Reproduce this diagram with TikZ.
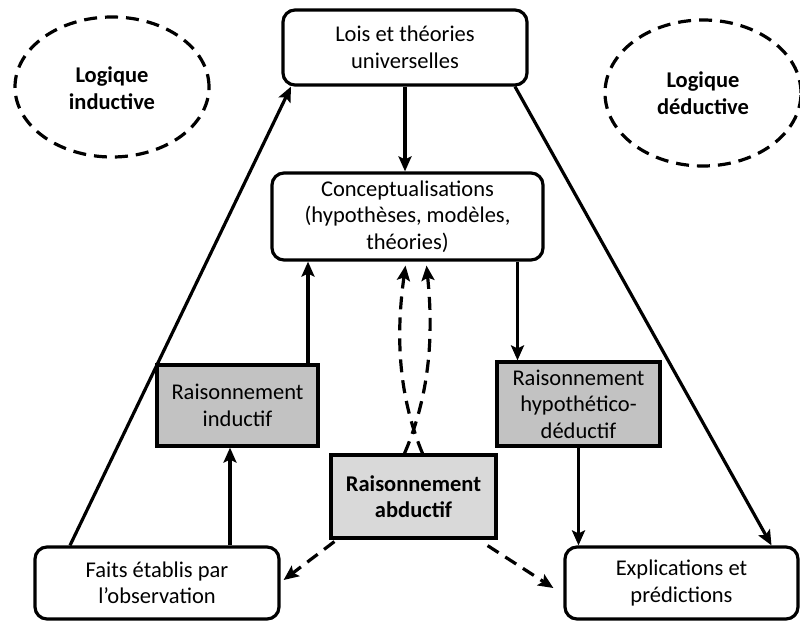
\documentclass[tikz,border=0pt]{standalone}
\usepackage{fontspec}
\setmainfont{Carlito}
\usetikzlibrary{arrows.meta,shapes.geometric}
\begin{document}
\begin{tikzpicture}[x=1pt,y=-1pt,
  every node/.style={font=\fontsize{22.5}{26.5}\selectfont, align=center, inner sep=0pt},
  rbox/.style={draw, line width=3.2pt, rounded corners=12pt, fill=white},
  gbox/.style={draw, line width=3.2pt, fill=gray!48},
  abox/.style={draw, line width=3.2pt, fill=gray!30},
  ell/.style={draw, ellipse, line width=3.2pt, dash pattern=on 13pt off 8pt},
  arr/.style={line width=3.2pt, -{Stealth[length=15pt,width=13pt,inset=3pt]}},
  darr/.style={arr, dash pattern=on 13pt off 8pt}
]
\useasboundingbox (0,0) rectangle (800,621);
\node[ell, minimum width=194pt, minimum height=140pt] (li) at (112,87) {};
\node[font=\fontsize{22.5}{26.5}\selectfont\bfseries] (lit) at (112,88) {Logique\\inductive};
\node[ell, minimum width=196pt, minimum height=146pt] (ld) at (703,93) {};
\node[font=\fontsize{22.5}{26.5}\selectfont\bfseries] (ldt) at (703,93) {Logique\\déductive};

\node[rbox, minimum width=244pt, minimum height=75pt] (top) at (405,47.5) {Lois et théories\\universelles};
\node[rbox, minimum width=271pt, minimum height=87pt] (con) at (407.5,216.5) {Conceptualisations\\(hypothèses, modèles,\\théories)};
\node[gbox, minimum width=161pt, minimum height=81pt] (ind) at (237.5,405.5) {Raisonnement\\inductif};
\node[gbox, minimum width=163pt, minimum height=84pt] (hyp) at (578.5,404) {Raisonnement\\hypothético-\\déductif};
\node[abox, minimum width=165pt, minimum height=83pt, font=\fontsize{22.5}{26.5}\selectfont\bfseries] (abd) at (413.5,496.5) {Raisonnement\\abductif};
\node[rbox, minimum width=244pt, minimum height=72pt] (fai) at (157,583) {Faits établis par\\l’observation};
\node[rbox, minimum width=233pt, minimum height=72pt] (exp) at (681.5,583) {Explications et\\prédictions};

\draw[arr] ([xshift=-87pt]fai.north) -- ([xshift=-114pt]top.south);
\draw[arr] ([xshift=110pt]top.south) -- ([xshift=90pt]exp.north);
\draw[arr] (top.south) -- (top.south |- con.north);
\draw[arr] ([xshift=70.5pt]ind.north) -- ([xshift=70.5pt]ind.north |- con.south);
\draw[arr] ([xshift=73pt]fai.north) -- ([xshift=73pt]fai.north |- ind.south);
\draw[arr] ([xshift=110pt]con.south) -- ([xshift=110pt]con.south |- hyp.north);
\draw[arr] (hyp.south) -- (hyp.south |- exp.north);

\draw[darr] ([xshift=-9pt]abd.north) .. controls (434,385) and (432,320) .. ([xshift=19pt,yshift=-4pt]con.south);
\draw[darr] ([xshift=9pt]abd.north) .. controls (394,385) and (398,320) .. ([xshift=-2pt,yshift=-4pt]con.south);
\draw[darr] ([xshift=5pt,yshift=-2pt]abd.south west) -- ([xshift=3pt,yshift=3pt]fai.east);
\draw[darr] ([xshift=-10pt,yshift=-6pt]abd.south east) -- ([xshift=-10pt,yshift=-5pt]exp.west);
\end{tikzpicture}
\end{document}
